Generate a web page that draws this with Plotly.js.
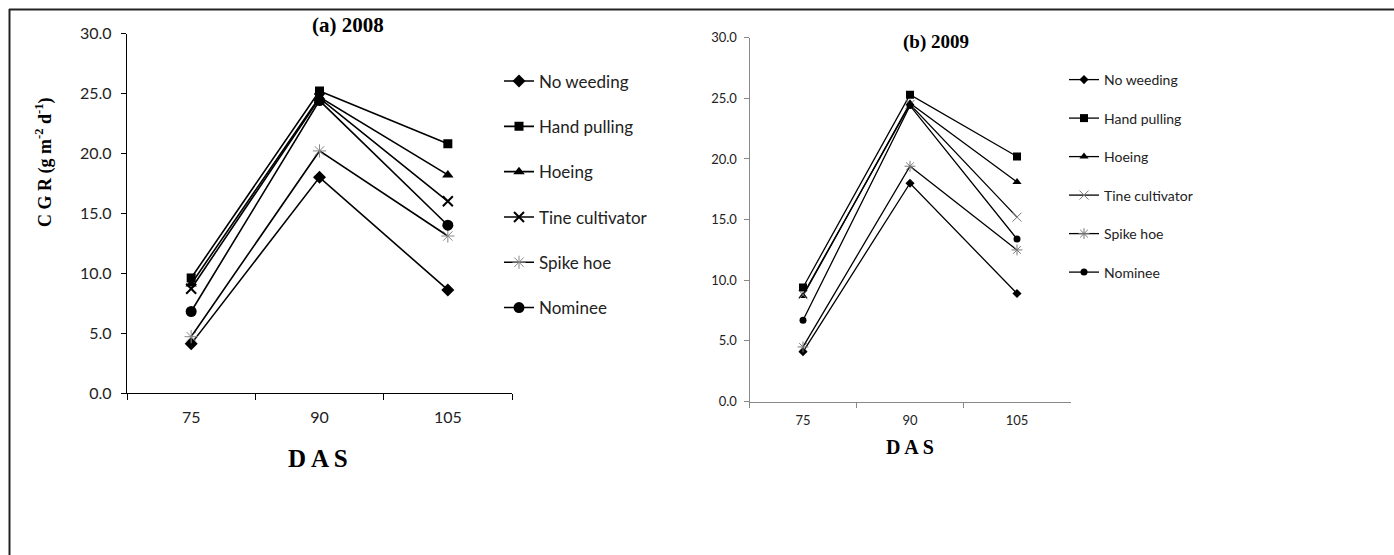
<!DOCTYPE html>
<html>
<head>
<meta charset="utf-8">
<script src="https://cdn.plot.ly/plotly-3.0.1.min.js"></script>
<style>html,body{margin:0;padding:0;background:#fff;}#chart{width:1394px;height:555px;}</style>
</head>
<body>
<div id="chart"></div>
<script>
// ---- data ----
const categories = ['75', '90', '105'];
const seriesNames = ['No weeding', 'Hand pulling', 'Hoeing', 'Tine cultivator', 'Spike hoe', 'Nominee'];

// (a) 2008
const noWeeding2008   = [4.1, 18.0, 8.6];
const handPulling2008 = [9.6, 25.2, 20.8];
const hoeing2008      = [9.1, 24.7, 18.2];
const tine2008        = [8.7, 24.6, 16.0];
const spikeHoe2008    = [4.7, 20.2, 13.1];
const nominee2008     = [6.8, 24.4, 14.0];

// (b) 2009
const noWeeding2009   = [4.1, 18.0, 8.9];
const handPulling2009 = [9.4, 25.3, 20.2];
const hoeing2009      = [8.7, 24.6, 18.1];
const tine2009        = [8.8, 24.5, 15.2];
const spikeHoe2009    = [4.5, 19.4, 12.5];
const nominee2009     = [6.7, 24.4, 13.4];

const yTickVals = [0, 5, 10, 15, 20, 25, 30];
const yTickText = ['0.0', '5.0', '10.0', '15.0', '20.0', '25.0', '30.0'];

// ---- styling ----
const W = 1394, H = 555;
const px = v => v / W;
const py = v => 1 - v / H;

const data2008 = [noWeeding2008, handPulling2008, hoeing2008, tine2008, spikeHoe2008, nominee2008];
const data2009 = [noWeeding2009, handPulling2009, hoeing2009, tine2009, spikeHoe2009, nominee2009];

const markersA = [
  {symbol: 'diamond', size: 10, color: '#000'},
  {symbol: 'square', size: 9, color: '#000'},
  {symbol: 'triangle-up', size: 10, color: '#000'},
  {symbol: 'x-thin', size: 10, color: '#000', line: {width: 2, color: '#000'}},
  {symbol: 'asterisk', size: 11, color: '#888', line: {width: 1, color: '#888'}},
  {symbol: 'circle', size: 11, color: '#000'}
];
const markersB = [
  {symbol: 'diamond', size: 7, color: '#000'},
  {symbol: 'square', size: 8, color: '#000'},
  {symbol: 'triangle-up', size: 8, color: '#000'},
  {symbol: 'x-thin', size: 9, color: '#777', line: {width: 1, color: '#777'}},
  {symbol: 'asterisk', size: 9, color: '#777', line: {width: 1, color: '#777'}},
  {symbol: 'circle', size: 7, color: '#000'}
];

const traces = [];
seriesNames.forEach((name, i) => {
  traces.push({
    x: categories, y: data2008[i], name: name, type: 'scatter', mode: 'lines+markers',
    xaxis: 'x', yaxis: 'y', legend: 'legend', legendgroup: 'a' + i,
    line: {color: '#000', width: 1.6}, marker: markersA[i], hoverinfo: 'x+y+name'
  });
});
seriesNames.forEach((name, i) => {
  traces.push({
    x: categories, y: data2009[i], name: name, type: 'scatter', mode: 'lines+markers',
    xaxis: 'x2', yaxis: 'y2', legend: 'legend2', legendgroup: 'b' + i,
    line: {color: '#000', width: 1.3}, marker: markersB[i], hoverinfo: 'x+y+name'
  });
});

const sans = 'Lato, "Open Sans", sans-serif';
const tickFontA = {family: sans, size: 16, color: '#222'};
const tickFontB = {family: sans, size: 13, color: '#222'};
const serifBold = 'Liberation Serif, "Times New Roman", serif';

function ann(text, x, y, size, angle) {
  return {text: text, xref: 'paper', yref: 'paper', x: px(x), y: py(y),
          xanchor: 'center', yanchor: 'middle', showarrow: false, textangle: angle || 0,
          font: {family: serifBold, size: size, color: '#000'}};
}

const layout = {
  width: W, height: H,
  margin: {l: 0, r: 0, t: 0, b: 0},
  paper_bgcolor: '#fff', plot_bgcolor: '#fff',
  showlegend: true,
  xaxis: {
    domain: [px(127), px(512)], anchor: 'y', type: 'category', categoryarray: categories,
    range: [-0.5, 2.5], tickson: 'boundaries', ticks: 'outside', ticklen: 6, tickcolor: '#000',
    showline: true, linecolor: '#000', linewidth: 1.3, showgrid: false, zeroline: false,
    tickfont: tickFontA, ticklabelstandoff: 9, automargin: false
  },
  yaxis: {
    domain: [py(393), py(33.5)], anchor: 'x', range: [0, 30],
    tickvals: yTickVals, ticktext: yTickText, ticks: 'outside', ticklen: 5, tickcolor: '#000',
    showline: true, linecolor: '#000', linewidth: 1.3, showgrid: false, zeroline: false,
    tickfont: tickFontA, ticklabelstandoff: 6, automargin: false
  },
  xaxis2: {
    domain: [px(749.5), px(1070.5)], anchor: 'y2', type: 'category', categoryarray: categories,
    range: [-0.5, 2.5], tickson: 'boundaries', ticks: 'outside', ticklen: 5, tickcolor: '#888',
    showline: true, linecolor: '#888', linewidth: 1, showgrid: false, zeroline: false,
    tickfont: tickFontB, ticklabelstandoff: 7, automargin: false
  },
  yaxis2: {
    domain: [py(401.5), py(37.7)], anchor: 'x2', range: [0, 30],
    tickvals: yTickVals, ticktext: yTickText, ticks: 'outside', ticklen: 5, tickcolor: '#888',
    showline: true, linecolor: '#888', linewidth: 1, showgrid: false, zeroline: false,
    tickfont: tickFontB, ticklabelstandoff: 4, automargin: false
  },
  legend: {
    x: px(499), xanchor: 'left', y: py(63.5), yanchor: 'top',
    traceorder: 'grouped', tracegroupgap: 20.2,
    font: {family: sans, size: 17, color: '#222'},
    bgcolor: 'rgba(0,0,0,0)', borderwidth: 0, itemwidth: 30
  },
  legend2: {
    x: px(1064), xanchor: 'left', y: py(64), yanchor: 'top',
    traceorder: 'grouped', tracegroupgap: 17.3,
    font: {family: sans, size: 14, color: '#222'},
    bgcolor: 'rgba(0,0,0,0)', borderwidth: 0, itemwidth: 30
  },
  annotations: [
    ann('<b>(a) 2008</b>', 348, 25, 21),
    ann('<b>(b) 2009</b>', 936, 42, 19),
    ann('<b>D A S</b>', 318, 458, 25),
    ann('<b>D A S</b>', 910, 447, 20),
    ann('<b>C G R (g m<sup>-2</sup> d<sup>-1</sup>)</b>', 44, 162, 18, -90)
  ],
  shapes: [
    {type: 'line', xref: 'paper', yref: 'paper', x0: px(9), x1: 1, y0: py(9.5), y1: py(9.5),
     line: {color: '#222', width: 2}},
    {type: 'line', xref: 'paper', yref: 'paper', x0: px(9.5), x1: px(9.5), y0: py(9), y1: 0,
     line: {color: '#222', width: 2}}
  ]
};

Plotly.newPlot('chart', traces, layout, {displayModeBar: false, staticPlot: true});
</script>
</body>
</html>
